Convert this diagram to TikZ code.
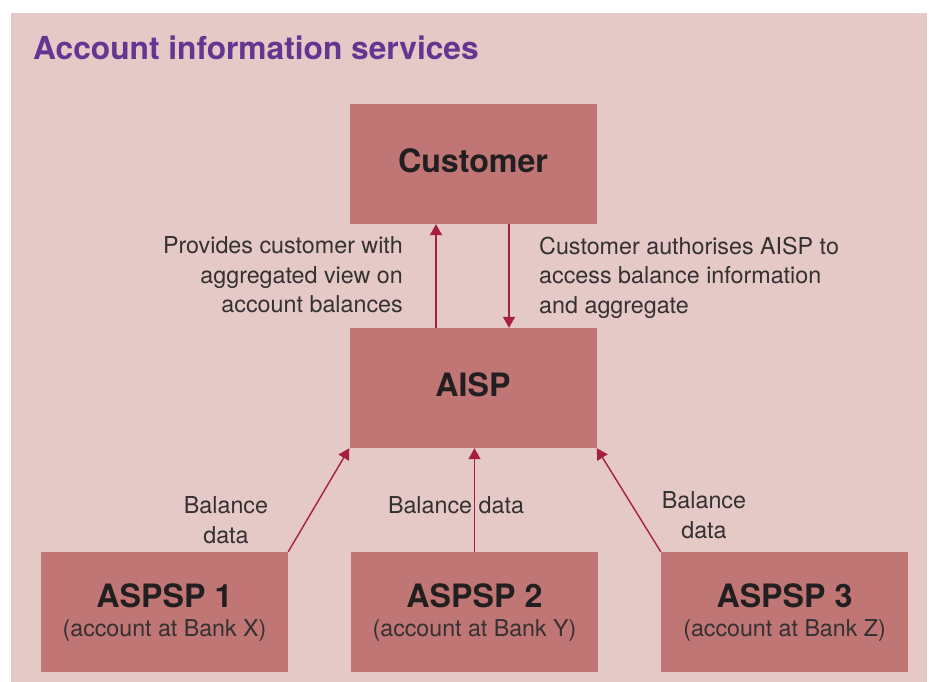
\documentclass[tikz,border=0pt]{standalone}
\usepackage{fontspec}
\setmainfont{TeX Gyre Heros}
\usetikzlibrary{arrows.meta,calc}
\definecolor{panelbg}{HTML}{E4C9C6}
\definecolor{boxfill}{HTML}{BF7674}
\definecolor{linkred}{HTML}{A51F43}
\definecolor{titlepurple}{HTML}{663592}
\definecolor{inktext}{HTML}{231F20}
\definecolor{notetext}{HTML}{353031}

\begin{document}
\begin{tikzpicture}[x=1pt,y=-1pt,
  entity/.style={fill=boxfill, draw=none, minimum width=247pt, minimum height=120pt, inner sep=0pt},
  entitytitle/.style={text=inktext, font=\fontsize{32.2}{36}\selectfont\bfseries, inner sep=0pt, anchor=base},
  entitysub/.style={text=notetext, font=\fontsize{23.2}{28}\selectfont, inner sep=0pt, anchor=base},
  note/.style={text=notetext, font=\fontsize{23.3}{29.5}\selectfont, inner sep=0pt},
  link/.style={draw=linkred, line width=1.4pt, -{Triangle[length=11pt,width=12pt]}}]

\useasboundingbox (0,0) rectangle (929,682);
\fill[panelbg] (11,13) rectangle (927,682);

% heading
\node[anchor=base west, inner sep=0pt, text=titlepurple,
      font=\fontsize{31.7}{36}\selectfont\bfseries] (heading) at (33,60) {Account information services};

% parties
\node[entity] (cust) at (473,164) {};
\node[entity] (aisp) at (473,388) {};
\node[entity] (a1) at (164.5,612) {};
\node[entity] (a2) at (474.5,612) {};
\node[entity] (a3) at (784.5,612) {};

\node[entitytitle] (custt) at ($(cust.center)+(0,8)$) {Customer};
\node[entitytitle] (aispt) at ($(aisp.center)+(0,8)$) {AISP};

\node[entitytitle] (a1t) at ($(a1.center)+(0,-5)$) {ASPSP 1};
\node[entitysub]   (a1s) at ($(a1.center)+(0,24)$) {(account at Bank X)};
\node[entitytitle] (a2t) at ($(a2.center)+(0,-5)$) {ASPSP 2};
\node[entitysub]   (a2s) at ($(a2.center)+(0,24)$) {(account at Bank Y)};
\node[entitytitle] (a3t) at ($(a3.center)+(0,-5)$) {ASPSP 3};
\node[entitysub]   (a3s) at ($(a3.center)+(0,24)$) {(account at Bank Z)};

% flows between customer and AISP
\draw[link] ($(aisp.north)+(-37,0)$) -- ($(cust.south)+(-37,0)$);
\draw[link] ($(cust.south)+(36,0)$) -- ($(aisp.north)+(36,0)$);

\node[note, align=right, anchor=north east] (upnote) at (403,236.5)
  {Provides customer with\\aggregated view on\\account balances};
\node[note, align=left, anchor=north west] (downnote) at (539,236.5)
  {Customer authorises AISP to\\access balance information\\and aggregate};

% balance data feeds
\draw[link] (a1.north east) -- (aisp.south west);
\draw[link] (a2.north) -- (a2.north |- aisp.south);
\draw[link] (a3.north west) -- (aisp.south east);

\node[note, align=center, anchor=north] (feed1) at (226,496.5) {Balance\\data};
\node[note, anchor=base] (feed2) at (456,513) {Balance data};
\node[note, align=center, anchor=north] (feed3) at (704,491.5) {Balance\\data};

\end{tikzpicture}
\end{document}
